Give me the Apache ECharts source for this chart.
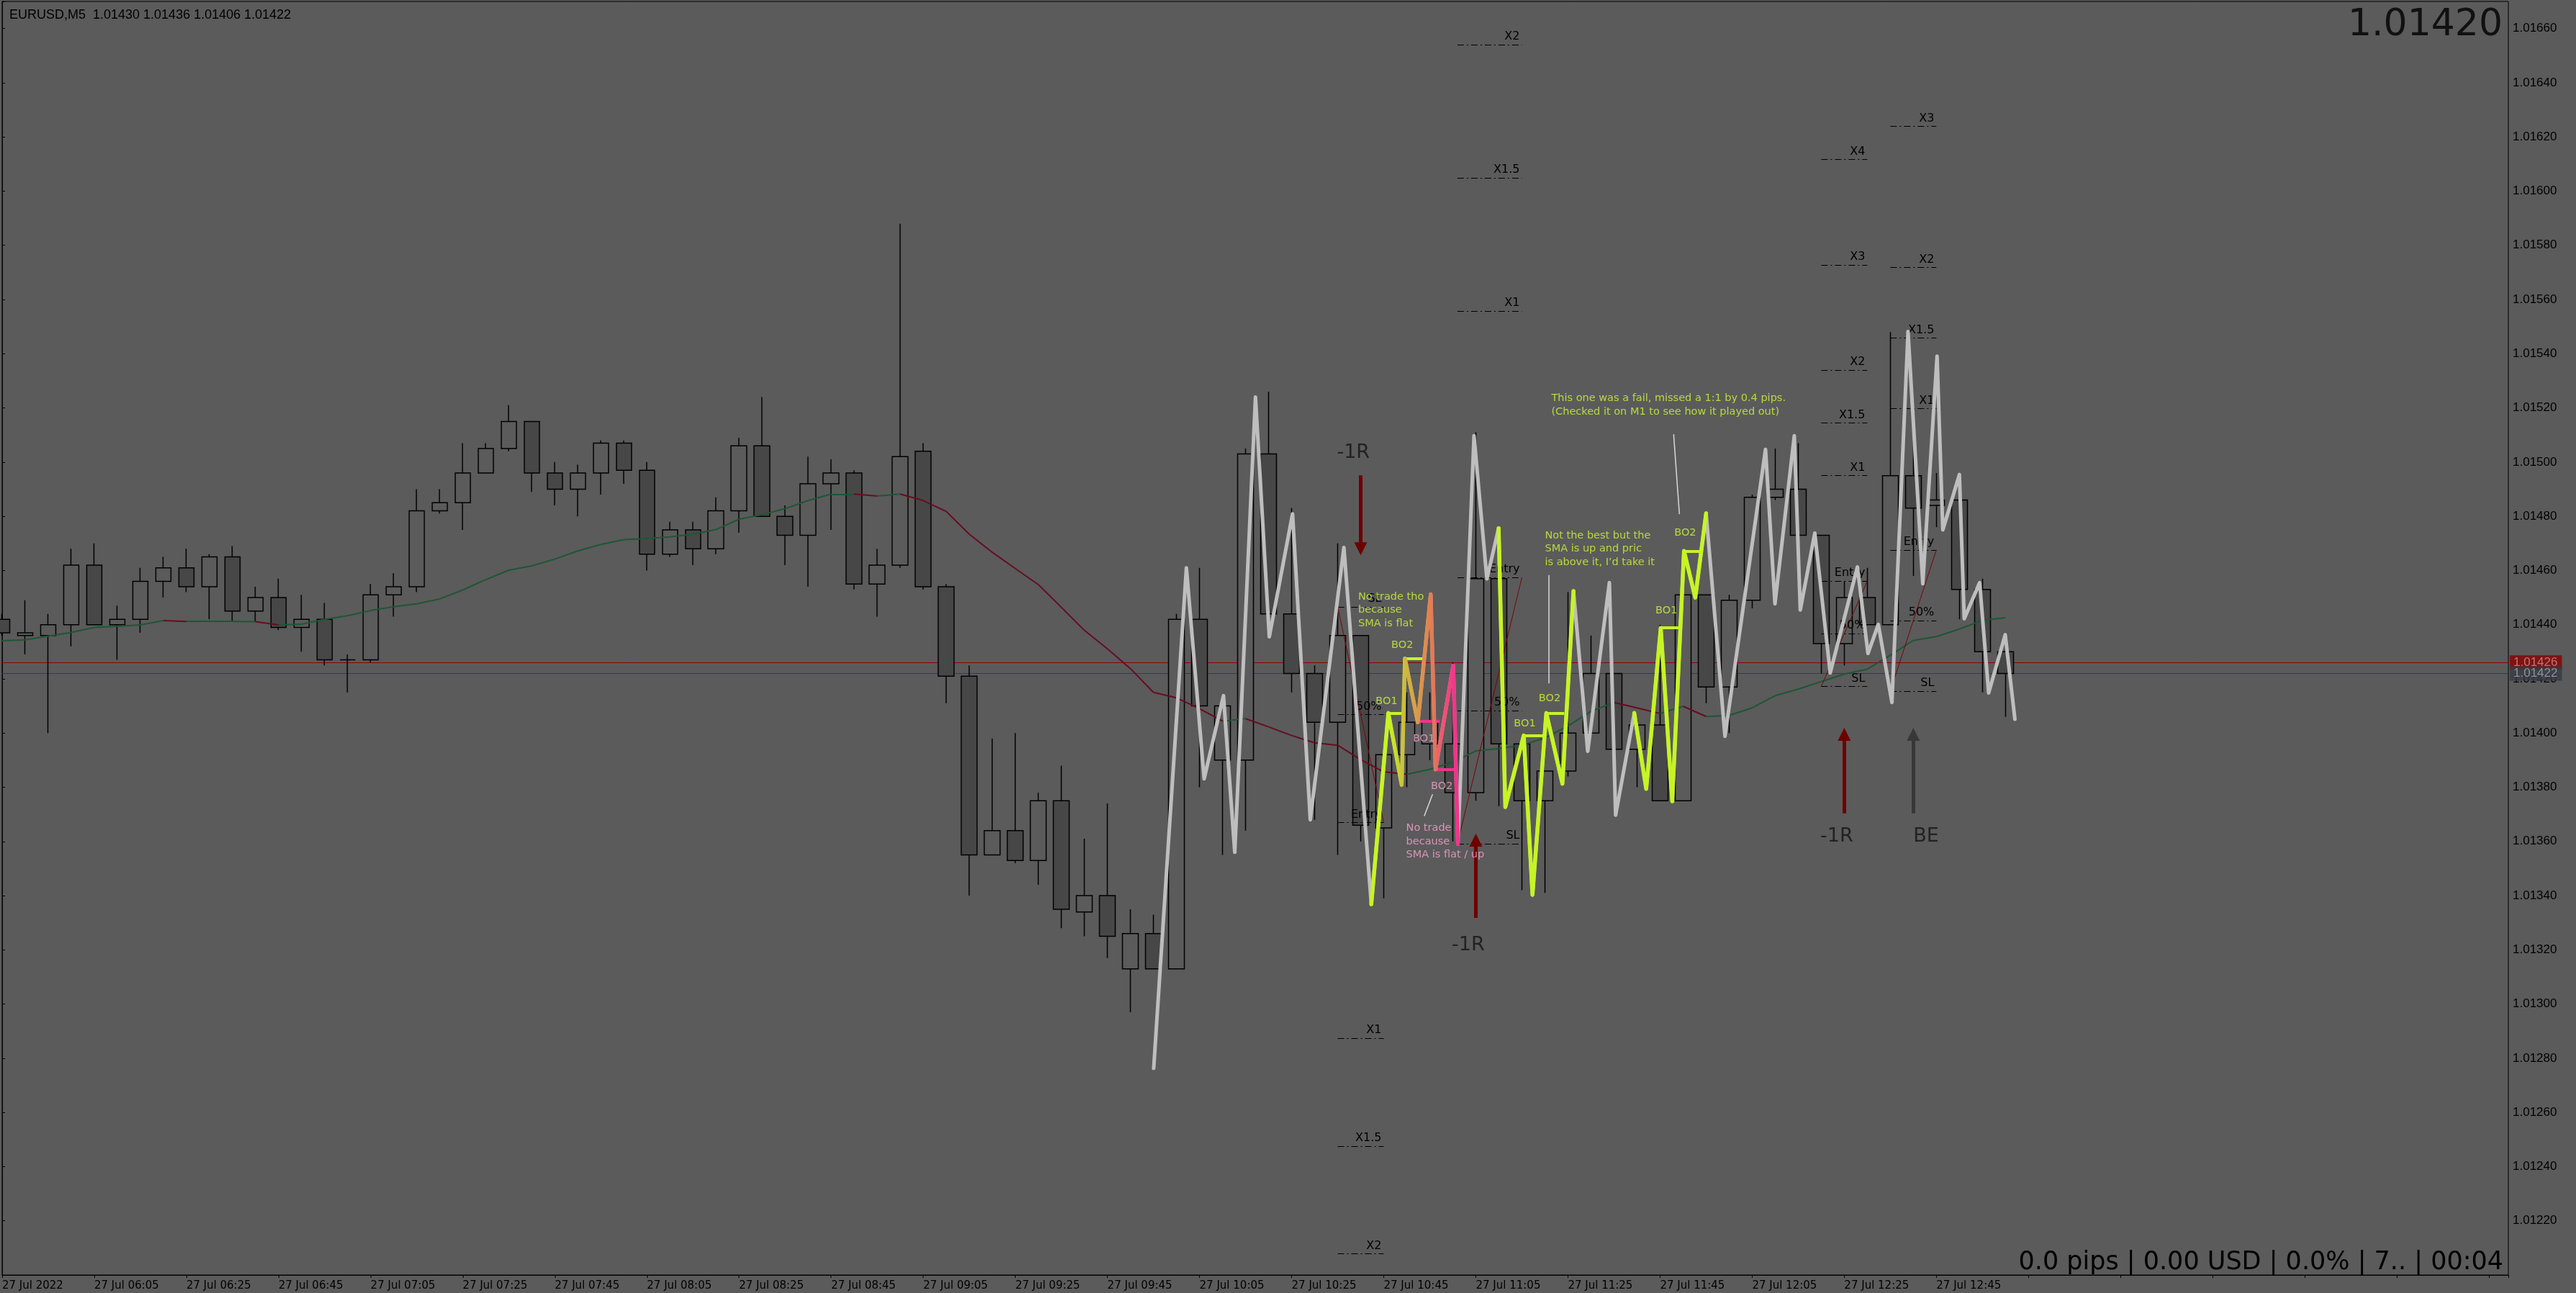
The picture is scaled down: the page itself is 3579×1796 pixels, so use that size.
<!DOCTYPE html>
<html><head><meta charset="utf-8">
<script src="https://cdn.jsdelivr.net/npm/echarts@6/dist/echarts.min.js"></script>
<style>html,body{margin:0;padding:0;background:#5b5b5b;overflow:hidden}#c{width:3579px;height:1796px}</style>
</head><body><div id="c"></div>
<script>
// ---------- DATA ----------
const timeLabels = ['27 Jul 2022','27 Jul 06:05','27 Jul 06:25','27 Jul 06:45','27 Jul 07:05','27 Jul 07:25','27 Jul 07:45','27 Jul 08:05','27 Jul 08:25','27 Jul 08:45','27 Jul 09:05','27 Jul 09:25','27 Jul 09:45','27 Jul 10:05','27 Jul 10:25','27 Jul 10:45','27 Jul 11:05','27 Jul 11:25','27 Jul 11:45','27 Jul 12:05','27 Jul 12:25','27 Jul 12:45'];
const opens  = [1.01442,1.01436,1.01436,1.01440,1.01462,1.01440,1.01442,1.01456,1.01461,1.01454,1.01465,1.01445,1.01450,1.01439,1.01442,1.01427,1.01427,1.01451,1.01454,1.01482,1.01485,1.01496,1.01505,1.01515,1.01496,1.01490,1.01496,1.01507,1.01497,1.01466,1.01475,1.01468,1.01482,1.01506,1.01480,1.01473,1.01492,1.01496,1.01455,1.01462,1.01504,1.01454,1.01421,1.01355,1.01364,1.01353,1.01375,1.01334,1.01340,1.01313,1.01326,1.01313,1.01442,1.01390,1.01390,1.01503,1.01444,1.01422,1.01404,1.01436,1.01365,1.01392,1.01396,1.01396,1.01378,1.01457,1.01396,1.01375,1.01386,1.01400,1.01422,1.01394,1.01403,1.01375,1.01451,1.01417,1.01449,1.01487,1.01490,1.01473,1.01433,1.01450,1.01440,1.01495,1.01484,1.01486,1.01453,1.01430];
const highs  = [1.01444,1.01449,1.01444,1.01468,1.01470,1.01447,1.01461,1.01465,1.01468,1.01466,1.01469,1.01454,1.01457,1.01451,1.01448,1.01429,1.01455,1.01459,1.01490,1.01490,1.01507,1.01507,1.01521,1.01515,1.01500,1.01499,1.01508,1.01508,1.01500,1.01478,1.01478,1.01487,1.01509,1.01524,1.01484,1.01502,1.01501,1.01497,1.01468,1.01588,1.01507,1.01455,1.01425,1.01398,1.01400,1.01378,1.01388,1.01361,1.01374,1.01335,1.01333,1.01444,1.01461,1.01414,1.01505,1.01526,1.01483,1.01425,1.01470,1.01436,1.01392,1.01415,1.01415,1.01426,1.01511,1.01457,1.01396,1.01386,1.01452,1.01436,1.01422,1.01405,1.01440,1.01451,1.01451,1.01451,1.01488,1.01505,1.01507,1.01473,1.01456,1.01461,1.01548,1.01508,1.01496,1.01496,1.01457,1.01436];
const lows   = [1.01436,1.01429,1.01400,1.01432,1.01440,1.01427,1.01437,1.01450,1.01452,1.01442,1.01441,1.01441,1.01438,1.01430,1.01425,1.01415,1.01426,1.01443,1.01452,1.01481,1.01475,1.01496,1.01504,1.01489,1.01484,1.01480,1.01488,1.01492,1.01460,1.01465,1.01462,1.01466,1.01474,1.01480,1.01462,1.01454,1.01475,1.01453,1.01443,1.01461,1.01453,1.01411,1.01340,1.01355,1.01352,1.01344,1.01328,1.01325,1.01317,1.01297,1.01313,1.01313,1.01380,1.01355,1.01364,1.01440,1.01415,1.01368,1.01355,1.01360,1.01339,1.01380,1.01390,1.01360,1.01375,1.01373,1.01342,1.01341,1.01384,1.01400,1.01390,1.01380,1.01375,1.01375,1.01411,1.01400,1.01446,1.01486,1.01471,1.01422,1.01425,1.01440,1.01440,1.01458,1.01476,1.01442,1.01415,1.01406];
const closes = [1.01437,1.01437,1.01440,1.01462,1.01440,1.01442,1.01456,1.01461,1.01454,1.01465,1.01445,1.01450,1.01439,1.01442,1.01427,1.01427,1.01451,1.01454,1.01482,1.01485,1.01496,1.01505,1.01515,1.01496,1.01490,1.01496,1.01507,1.01497,1.01466,1.01475,1.01468,1.01482,1.01506,1.01480,1.01473,1.01492,1.01496,1.01455,1.01462,1.01502,1.01454,1.01421,1.01355,1.01364,1.01353,1.01375,1.01335,1.01340,1.01325,1.01326,1.01313,1.01442,1.01410,1.01410,1.01503,1.01444,1.01422,1.01404,1.01436,1.01366,1.01392,1.01404,1.01404,1.01378,1.01457,1.01396,1.01375,1.01386,1.01400,1.01422,1.01394,1.01403,1.01375,1.01451,1.01417,1.01449,1.01487,1.01490,1.01473,1.01433,1.01450,1.01440,1.01495,1.01483,1.01486,1.01453,1.01430,1.01422];
const smaValues = [1.014341,1.014344,1.014358,1.014371,1.014390,1.014394,1.014399,1.014415,1.014412,1.014412,1.014412,1.014411,1.014399,1.014402,1.014420,1.014433,1.014452,1.014466,1.014477,1.014495,1.014528,1.014566,1.014601,1.014617,1.014642,1.014672,1.014696,1.014714,1.014718,1.014724,1.014734,1.014751,1.014789,1.014806,1.014828,1.014858,1.014882,1.014882,1.014875,1.014882,1.014858,1.014818,1.014734,1.014667,1.014607,1.014548,1.014464,1.014379,1.014311,1.014238,1.014150,1.014130,1.014090,1.014044,1.014053,1.014023,1.013991,1.013964,1.013955,1.013902,1.013857,1.013848,1.013866,1.013893,1.013934,1.013943,1.013955,1.013982,1.014026,1.014080,1.014113,1.014093,1.014072,1.014099,1.014061,1.014065,1.014093,1.014138,1.014162,1.014190,1.014218,1.014236,1.014287,1.014342,1.014356,1.014384,1.014416,1.014426];
const bidPrice = 1.01422, askPrice = 1.01426;
// hand-drawn swing path [bar index, price]
const swingPath = [[50.01,1.012763],[51.43,1.014610],[52.20,1.013831],[53.04,1.014138],[53.53,1.013560],[54.43,1.015240],[55.03,1.014355],[56.04,1.014809],[56.81,1.013680],[58.27,1.014685],[59.46,1.013368],
 [60.20,1.014074],[60.78,1.013809],[60.92,1.014275],[61.48,1.014040],[62.04,1.014512],[62.25,1.013866],[63.02,1.014249],[63.22,1.013591],
 [63.92,1.015097],[64.48,1.014569],[64.99,1.014756],
 [65.28,1.013727],[66.08,1.013991],[66.46,1.013403],[67.06,1.014074],[67.76,1.013813],[68.24,1.014524],
 [68.86,1.013933],[69.80,1.014555],[70.07,1.013697],[70.88,1.014074],
 [71.40,1.013794],[72.03,1.014388],[72.53,1.013748],[73.04,1.014672],[73.53,1.014500],[74.00,1.014811],
 [74.82,1.013988],[76.58,1.015047],[76.99,1.014477],[77.83,1.015097],[78.09,1.014454],[78.72,1.014738],[79.39,1.014222],[80.57,1.014613],[81.03,1.014294],[81.48,1.014401],[82.07,1.014113],[82.77,1.015482],[83.41,1.014551],[84.03,1.015391],[84.28,1.014750],[85.00,1.014954],[85.21,1.014422],[85.88,1.014555],[86.27,1.014148],[86.99,1.014363],[87.41,1.014051]];
const fadedTradeRange = [10, 19];            // lime -> orange -> pink part of the path
const takenTradeRanges = [[21, 28], [31, 38]]; // lime parts of the path
// breakout levels [startBar, endBar, price, kind]
const breakoutLevels = [[60.20,60.85,1.014074,'lime'],[60.92,61.79,1.014275,'lime'],[61.48,62.43,1.014044,'pink'],[62.24,63.14,1.013866,'pink'],[66.08,66.99,1.013991,'lime'],[67.06,67.84,1.014074,'lime'],[72.02,72.83,1.014388,'lime'],[73.04,73.74,1.014672,'lime']];
// position tools
const fibStarts  = [58, 63.2, 79, 82];
const fibEnds    = [60, 66, 81, 84];
const fibEntries = [1.013670, 1.014574, 1.014561, 1.014676];
const fibStops   = [1.014466, 1.013591, 1.014172, 1.014155];
const fibLevelNames = [['SL','50%','Entry','X1','X1.5','X2'],['SL','50%','Entry','X1','X1.5','X2'],['SL','50%','Entry','X1','X1.5','X2','X3','X4'],['SL','50%','Entry','X1','X1.5','X2','X3']];
const levelRatio = {'SL':-1,'50%':-0.5,'Entry':0,'X1':1,'X1.5':1.5,'X2':2,'X3':3,'X4':4};
// arrows [bar, fromPrice, toPrice, kind]
const arrows = [[59,1.014951,1.014680,'red'],[64,1.013318,1.013605,'red'],[80,1.013704,1.013995,'red'],[83,1.013704,1.013995,'gray']];
const resultLabels = [[58.68,1.015033,'-1R'],[63.67,1.013217,'-1R'],[79.67,1.013617,'-1R'],[83.55,1.013617,'BE']];
// notes [bar, price(top), text, kind]
const notes = [
 [58.89,1.014528,'No trade tho\nbecause\nSMA is flat','lime'],
 [60.33,1.014348,'BO2','lime'],[59.65,1.014141,'BO1','lime'],
 [61.27,1.014002,'BO1','pink'],[62.05,1.013827,'BO2','pink'],
 [60.97,1.013673,'No trade\nbecause\nSMA is flat / up','pink'],
 [65.65,1.014058,'BO1','lime'],[66.73,1.014151,'BO2','lime'],
 [67.00,1.014753,'Not the best but the\nSMA is up and pric\nis above it, I\u2019d take it','lime'],
 [67.28,1.015259,'This one was a fail, missed a 1:1 by 0.4 pips.\n(Checked it on M1 to see how it played out)','lime'],
 [72.62,1.014762,'BO2','lime'],[71.80,1.014475,'BO1','lime']];
const calloutLines = [[[62.12,1.013774],[61.76,1.013694]],[[67.17,1.014583],[67.17,1.014183]],[[72.59,1.015103],[72.84,1.014808]]];
const headerText = 'EURUSD,M5  1.01430 1.01436 1.01406 1.01422';
const priceText = '1.01420';
const footerText = '0.0 pips | 0.00 USD | 0.0% | 7.. | 00:04';

// ---------- CHART ----------
const X_MAX = 108.84;
const LIME = '#c6f425', LIME_TXT = '#cef53a', PINK = '#f0348c', PINK_TXT = '#f6a2cc';
const chart = echarts.init(document.getElementById('c'));
const candles = opens.map((o, i) => [i, o, closes[i], lows[i], highs[i]]);
const smaSegs = smaValues.slice(0, -1).map((v, i) => {
  const d = smaValues[i + 1] - v;
  return {coords: [[i, v], [i + 1, smaValues[i + 1]]], lineStyle: {color: d >= -0.000002 ? '#1e5636' : '#680c20'}};
});
const fibLines = [], fibDiag = [];
fibStarts.forEach((x0, g) => {
  const e = fibEntries[g], s = fibStops[g], x1 = fibEnds[g];
  fibLevelNames[g].forEach(n => {
    const p = e + levelRatio[n] * (e - s);
    fibLines.push({name: n, coords: [[x0, p], [x1, p]]});
  });
  fibDiag.push({coords: [[x0, s], [x1, e]]});
});
const textSeries = (kind, color, fs, lh) => ({
  type: 'scatter', symbolSize: 0, z: 9, silent: true,
  data: notes.filter(n => n[3] === kind).map(n => ({value: [n[0], n[1]], label: {formatter: n[2]}})),
  label: {show: true, position: [0, 0], align: 'left', verticalAlign: 'top', color, fontSize: fs, lineHeight: lh, fontFamily: 'DejaVu Sans'}
});
const arrowSeries = (kind, color) => ({
  type: 'lines', coordinateSystem: 'cartesian2d', z: 8, silent: true,
  symbol: ['none', 'triangle'], symbolSize: 18,
  lineStyle: {color, width: 5, opacity: 1},
  data: arrows.filter(a => a[3] === kind).map(a => ({coords: [[a[0], a[1]], [a[0], a[2]]]}))
});
const priceLine = (p, lineColor, z) => ({
  type: 'lines', coordinateSystem: 'cartesian2d', z, silent: true,
  data: [{coords: [[0, p], [X_MAX, p]]}],
  lineStyle: {color: lineColor, width: 1, opacity: 1}
});
const priceBox = (p, boxColor, txtColor, z) => ({
  type: 'scatter', symbolSize: 0, z, silent: true, clip: false,
  data: [[X_MAX, p]],
  label: {show: true, position: 'right', distance: 2, formatter: p.toFixed(5), color: txtColor, backgroundColor: boxColor,
    padding: [2, 6, 1, 5], fontSize: 17, fontFamily: 'Liberation Sans'}
});

chart.setOption({
  animation: false,
  backgroundColor: '#5b5b5b',
  textStyle: {fontFamily: 'Liberation Sans'},
  title: [
    {text: headerText, left: 8, top: 7, textStyle: {color: '#000', fontSize: 18, fontWeight: 'normal', fontFamily: 'Liberation Sans'}},
    {text: priceText, right: 97, top: 4, textStyle: {color: '#111', fontSize: 52, fontWeight: 'normal', fontFamily: 'DejaVu Sans'}},
    {text: footerText, right: 96, top: 1731, textStyle: {color: '#000', fontSize: 35, fontWeight: 'normal', fontFamily: 'DejaVu Sans'}}
  ],
  grid: {left: 2, right: 94, top: 2, bottom: 25, show: true, borderColor: '#000', borderWidth: 1, backgroundColor: 'transparent'},
  xAxis: {
    type: 'value', min: 0, max: X_MAX, interval: 4,
    axisLine: {show: true, lineStyle: {color: '#000'}},
    axisTick: {show: true, length: 4, lineStyle: {color: '#000'}},
    splitLine: {show: false},
    axisLabel: {color: '#000', fontSize: 15, fontFamily: 'DejaVu Sans', align: 'left', margin: 8,
      formatter: v => { const k = Math.round(v / 4); return (Math.abs(v - 4 * k) < 1e-6 && k < timeLabels.length) ? timeLabels[k] : ''; }}
  },
  yAxis: {
    type: 'value', position: 'right', min: 1.012, max: 1.0167, interval: 0.0002, scale: true,
    axisLine: {show: true, lineStyle: {color: '#000'}},
    axisTick: {show: true, length: 4, lineStyle: {color: '#000'}},
    splitLine: {show: false},
    axisLabel: {color: '#000', fontSize: 17, fontFamily: 'Liberation Sans', margin: 6,
      formatter: v => (v > 1.016605 || v < 1.012005) ? '' : v.toFixed(5)}
  },
  series: [
    priceLine(askPrice, '#900000', 1),
    priceLine(bidPrice, '#363b45', 1),
    priceBox(askPrice, '#880000', '#c89090', 10),
    priceBox(bidPrice, '#363b45', '#a6a6a6', 11),
    {type: 'candlestick', data: candles, encode: {x: 0, y: [1, 2, 3, 4]}, barWidth: 22, z: 2,
      itemStyle: {color: '#5b5b5b', color0: '#474747', borderColor: '#000', borderColor0: '#000', borderWidth: 1.5}},
    {type: 'lines', coordinateSystem: 'cartesian2d', z: 3, silent: true, data: smaSegs, lineStyle: {width: 2, opacity: 1}},
    {type: 'lines', coordinateSystem: 'cartesian2d', z: 4, silent: true, data: fibLines,
      lineStyle: {color: '#000', width: 1, type: [9, 4, 2, 4], opacity: 1},
      label: {show: true, position: 'insideEndTop', formatter: '{b}', color: '#000', fontSize: 16, fontFamily: 'DejaVu Sans', distance: 3}},
    {type: 'lines', coordinateSystem: 'cartesian2d', z: 4, silent: true, data: fibDiag, lineStyle: {color: '#7a0505', width: 1, opacity: 1}},
    {type: 'line', data: swingPath, z: 5, symbol: 'none', silent: true, lineStyle: {color: '#bebebe', width: 5, cap: 'round', join: 'round'}},
    {type: 'line', data: swingPath.slice(fadedTradeRange[0], fadedTradeRange[1]), z: 6, symbol: 'none', silent: true,
      lineStyle: {width: 5.5, cap: 'round', join: 'round', color: new echarts.graphic.LinearGradient(0, 0, 1, 0, [
        {offset: 0, color: LIME}, {offset: 0.22, color: LIME}, {offset: 0.36, color: '#c8c43a'}, {offset: 0.5, color: '#d8a048'},
        {offset: 0.68, color: '#e08052'}, {offset: 0.8, color: '#ec5a72'}, {offset: 0.95, color: PINK}, {offset: 1, color: PINK}])}},
    ...takenTradeRanges.map(r => ({type: 'line', data: swingPath.slice(r[0], r[1]), z: 6, symbol: 'none', silent: true,
      lineStyle: {color: LIME, width: 5.5, cap: 'round', join: 'round'}})),
    {type: 'lines', coordinateSystem: 'cartesian2d', z: 6, silent: true,
      data: breakoutLevels.map(b => ({coords: [[b[0], b[2]], [b[1], b[2]]], lineStyle: {color: b[3] === 'lime' ? LIME : PINK}})),
      lineStyle: {width: 4, opacity: 1}},
    {type: 'lines', coordinateSystem: 'cartesian2d', z: 6, silent: true,
      data: calloutLines.map(c => ({coords: c})), lineStyle: {color: '#d8d8d8', width: 1.5, opacity: 1}},
    arrowSeries('red', '#6e0000'),
    arrowSeries('gray', '#383838'),
    textSeries('lime', LIME_TXT, 14.5, 18.5),
    textSeries('pink', PINK_TXT, 14.5, 18.5),
    {type: 'scatter', symbolSize: 0, z: 9, silent: true,
      data: resultLabels.map(r => ({value: [r[0], r[1]], label: {formatter: r[2]}})),
      label: {show: true, position: [0, 0], align: 'center', verticalAlign: 'middle', color: '#141414', fontSize: 27, fontFamily: 'DejaVu Sans'}}
  ]
});
</script></body></html>
